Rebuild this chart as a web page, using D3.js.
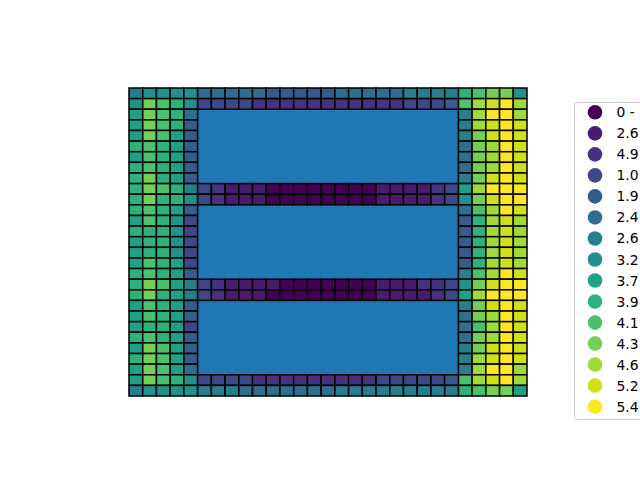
<!DOCTYPE html>
<html>
<head>
<meta charset="utf-8">
<script src="https://cdn.jsdelivr.net/npm/d3@7"></script>
<style>
  html, body { margin: 0; padding: 0; background: #ffffff; }
  svg { display: block; }
  text { font-family: "DejaVu Sans", sans-serif; }
</style>
</head>
<body>
<div id="chart"></div>
<script>
// class index (0..14) for every grid cell
// left band: columns 0-4, one row per grid row (top to bottom)
const leftBand = [
  [6, 7, 7, 7, 7],
  [7, 11, 10, 9, 7],
  [8, 11, 10, 9, 5],
  [8, 11, 10, 9, 4],
  [8, 11, 10, 8, 4],
  [9, 10, 9, 8, 4],
  [8, 10, 9, 8, 4],
  [9, 10, 9, 8, 4],
  [9, 11, 9, 8, 4],
  [9, 11, 10, 9, 6],
  [9, 11, 9, 9, 7],
  [9, 10, 9, 8, 4],
  [8, 10, 9, 7, 3],
  [9, 9, 9, 7, 3],
  [8, 9, 9, 7, 3],
  [8, 9, 9, 7, 3],
  [8, 10, 9, 8, 3],
  [9, 10, 9, 8, 4],
  [9, 11, 10, 8, 6],
  [9, 11, 9, 8, 6],
  [8, 10, 9, 8, 4],
  [8, 10, 9, 8, 4],
  [8, 9, 9, 8, 3],
  [9, 10, 9, 8, 4],
  [8, 11, 10, 8, 4],
  [9, 11, 10, 8, 4],
  [8, 11, 10, 8, 5],
  [8, 11, 10, 9, 7],
  [6, 7, 7, 7, 7]
];

// right band: columns 24-28
const rightBand = [
  [9, 10, 11, 11, 7],
  [10, 12, 13, 14, 12],
  [6, 12, 14, 14, 12],
  [6, 12, 13, 14, 13],
  [6, 11, 13, 14, 13],
  [5, 11, 12, 14, 13],
  [5, 11, 12, 14, 13],
  [5, 11, 12, 14, 13],
  [6, 11, 13, 14, 13],
  [8, 12, 14, 14, 14],
  [7, 11, 13, 14, 14],
  [5, 10, 12, 14, 13],
  [4, 9, 12, 13, 12],
  [4, 9, 12, 13, 12],
  [4, 9, 12, 13, 12],
  [4, 9, 12, 13, 12],
  [4, 9, 12, 13, 12],
  [6, 10, 12, 14, 13],
  [7, 11, 13, 14, 14],
  [8, 12, 14, 14, 14],
  [6, 11, 13, 14, 13],
  [5, 11, 12, 14, 13],
  [5, 10, 12, 14, 13],
  [5, 11, 12, 14, 13],
  [6, 11, 13, 14, 13],
  [6, 12, 13, 14, 13],
  [6, 12, 14, 14, 12],
  [10, 12, 13, 14, 12],
  [9, 10, 11, 11, 8]
];

// full-width rows between the blue blocks: columns 5-23
const middleRowIndex = [0, 1, 9, 10, 18, 19, 27, 28];
const middleRowClasses = [
  [5, 5, 5, 5, 5, 4, 4, 4, 4, 4, 5, 5, 5, 5, 5, 6, 6, 6, 6],
  [3, 3, 3, 3, 2, 2, 2, 2, 2, 2, 2, 2, 2, 2, 2, 3, 3, 3, 4],
  [3, 2, 1, 1, 1, 0, 0, 0, 0, 0, 0, 0, 0, 1, 1, 1, 1, 2, 3],
  [3, 2, 1, 1, 1, 0, 0, 0, 0, 0, 0, 0, 0, 1, 1, 1, 1, 2, 3],
  [3, 2, 1, 1, 1, 1, 0, 0, 0, 0, 0, 0, 0, 1, 1, 1, 2, 2, 3],
  [3, 2, 1, 1, 1, 0, 0, 0, 0, 0, 0, 0, 0, 1, 1, 1, 1, 2, 3],
  [3, 3, 3, 3, 2, 2, 2, 2, 2, 2, 2, 2, 2, 3, 3, 3, 3, 3, 4],
  [6, 6, 6, 5, 5, 5, 5, 5, 5, 5, 6, 6, 6, 6, 6, 6, 6, 6, 6]
];

// blue blocks (row ranges) spanning columns 5-23
const blockRows = [[2, 8], [11, 17], [20, 26]];
const blockCols = [5, 23];

const legendLabels = ["0 -", "2.6", "4.9", "1.0", "1.9", "2.4", "2.6", "3.2",
  "3.7", "3.9", "4.1", "4.3", "4.6", "5.2", "5.4"];

const N = 29;
const W = 640, H = 480;

// flatten into cells
const cells = [];
leftBand.forEach((r, i) => r.forEach((c, j) => cells.push({ row: i, col: j, k: c })));
rightBand.forEach((r, i) => r.forEach((c, j) => cells.push({ row: i, col: 24 + j, k: c })));
middleRowIndex.forEach((ri, n) => {
  middleRowClasses[n].forEach((c, j) => cells.push({ row: ri, col: 5 + j, k: c }));
});

const nClass = legendLabels.length;
const color = k => d3.interpolateViridis(k / (nClass - 1));

const svg = d3.select("#chart").append("svg")
  .attr("width", W)
  .attr("height", H);

const x = d3.scaleBand().domain(d3.range(N)).range([129, 527]);
const y = d3.scaleBand().domain(d3.range(N)).range([88, 396]);

// blue blocks first
svg.append("g")
  .selectAll("rect")
  .data(blockRows)
  .join("rect")
  .attr("x", x(blockCols[0]))
  .attr("width", x(blockCols[1]) + x.bandwidth() - x(blockCols[0]))
  .attr("y", d => y(d[0]))
  .attr("height", d => y(d[1]) + y.bandwidth() - y(d[0]))
  .attr("fill", "#1f77b4");

// grid cells
svg.append("g")
  .selectAll("rect")
  .data(cells)
  .join("rect")
  .attr("x", d => x(d.col))
  .attr("y", d => y(d.row))
  .attr("width", x.bandwidth())
  .attr("height", y.bandwidth())
  .attr("fill", d => color(d.k))
  .attr("stroke", "#000")
  .attr("stroke-width", 1.5);

// ----- Legend (runs off the right edge, like the original) -----
const lg = svg.append("g");
const ly = d3.scaleLinear().domain([0, nClass - 1]).range([112.3, 406.7]);

lg.append("rect")
  .attr("x", 574.5)
  .attr("y", 102.5)
  .attr("width", 120)
  .attr("height", 317)
  .attr("rx", 3)
  .attr("fill", "#fff")
  .attr("fill-opacity", 0.8)
  .attr("stroke", "#cccccc")
  .attr("stroke-width", 1);

lg.selectAll("circle")
  .data(legendLabels)
  .join("circle")
  .attr("cx", 595)
  .attr("cy", (d, i) => ly(i))
  .attr("r", 7.3)
  .attr("fill", (d, i) => color(i));

lg.selectAll("text")
  .data(legendLabels)
  .join("text")
  .attr("x", 616.5)
  .attr("y", (d, i) => ly(i))
  .attr("dy", "0.36em")
  .attr("font-size", 13.9)
  .attr("fill", "#000")
  .text(d => d);
</script>
</body>
</html>
